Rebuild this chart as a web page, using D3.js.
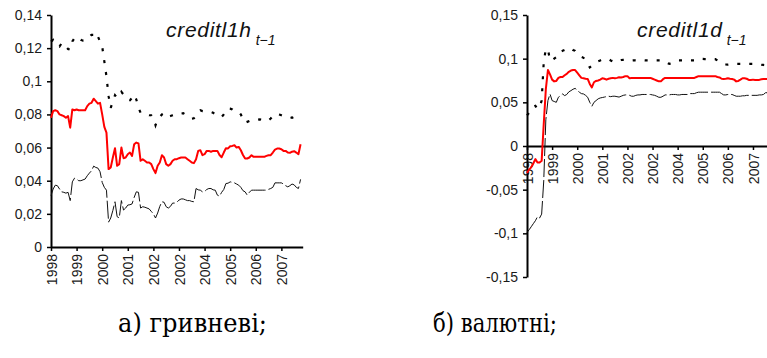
<!DOCTYPE html>
<html>
<head>
<meta charset="utf-8">
<script src="https://cdn.jsdelivr.net/npm/d3@7"></script>
<style>
  body { margin: 0; background: #fff; }
  svg { display: block; }
  .tick text { font-family: "Liberation Sans", Arial, sans-serif; font-size: 14px; fill: #1a1a1a; }
  .title { font-family: "Liberation Sans", Arial, sans-serif; font-style: italic; fill: #111; }
</style>
</head>
<body>
<div id="chart"></div>
<script>
// x tick labels (one every 12 months, as printed in the source)
const yearLabels = ["1998", "1999", "2000", "2001", "2002", "2002", "2004", "2005", "2006", "2007"];

// left panel: creditl1h (hryvnia), monthly 1998-01 .. 2007-10
const leftYTicks = [0, 0.02, 0.04, 0.06, 0.08, 0.1, 0.12, 0.14];
const leftYLabels = ["0", "0,02", "0,04", "0,06", "0,08", "0,1", "0,12", "0,14"];

const leftMid = [
  0.078, 0.082, 0.0825, 0.082, 0.080, 0.0795, 0.079, 0.078, 0.079, 0.072,
  0.083, 0.0825, 0.083, 0.0825, 0.0825, 0.0825, 0.0825, 0.085, 0.0865, 0.087,
  0.0895, 0.088, 0.0865, 0.087, 0.080, 0.0725, 0.069, 0.047, 0.048, 0.054,
  0.0596, 0.049, 0.050, 0.060, 0.0536, 0.054, 0.056, 0.057, 0.055, 0.062,
  0.063, 0.0625, 0.052, 0.053, 0.052, 0.051, 0.051, 0.050, 0.047, 0.0446,
  0.049, 0.051, 0.0554, 0.054, 0.050, 0.049, 0.050, 0.052, 0.053, 0.053,
  0.0536, 0.054, 0.054, 0.054, 0.053, 0.052, 0.051, 0.0506, 0.053, 0.058,
  0.0584, 0.0554, 0.056, 0.058, 0.058, 0.0575, 0.058, 0.058, 0.058, 0.0555,
  0.0542, 0.057, 0.0596, 0.0595, 0.0608, 0.061, 0.0614, 0.060, 0.0604, 0.0584,
  0.0555, 0.0534, 0.0534, 0.054, 0.0554, 0.0544, 0.0544, 0.0544, 0.0544, 0.0544,
  0.0544, 0.055, 0.0554, 0.0554, 0.057, 0.0588, 0.0594, 0.0594, 0.059, 0.058,
  0.058, 0.057, 0.0568, 0.0575, 0.0578, 0.057, 0.056, 0.062
];

const leftUpper = [
  0.124, 0.125, 0.123, 0.122, 0.121, 0.123, 0.123, 0.121, 0.1195, 0.119,
  0.124, 0.126, 0.127, 0.126, 0.125, 0.1245, 0.1245, 0.126, 0.127, 0.128,
  0.128, 0.1295, 0.127, 0.124, 0.121, 0.112, 0.103, 0.091, 0.084, 0.088,
  0.0916, 0.090, 0.091, 0.0936, 0.092, 0.091, 0.089, 0.0886, 0.090, 0.092,
  0.089, 0.084, 0.081, 0.0805, 0.080, 0.080, 0.0795, 0.0795, 0.078, 0.0735,
  0.077, 0.0785, 0.080, 0.0807, 0.080, 0.0785, 0.079, 0.0795, 0.080, 0.080,
  0.080, 0.0805, 0.0807, 0.080, 0.079, 0.078, 0.0775, 0.0777, 0.079, 0.0815,
  0.0825, 0.082, 0.0818, 0.0815, 0.0815, 0.0815, 0.081, 0.080, 0.079, 0.0785,
  0.0785, 0.080, 0.0825, 0.0837, 0.0835, 0.083, 0.082, 0.0815, 0.0815, 0.080,
  0.077, 0.075, 0.0755, 0.076, 0.0765, 0.0765, 0.0765, 0.0768, 0.077, 0.0765,
  0.0762, 0.0759, 0.0765, 0.0775, 0.079, 0.080, 0.0805, 0.080, 0.0795, 0.079,
  0.0785, 0.0785, 0.0785, 0.078, 0.0785, 0.079, 0.0795, 0.080
];

const leftLower = [
  0.031, 0.035, 0.0373, 0.037, 0.035, 0.0333, 0.033, 0.0325, 0.033, 0.028,
  0.0393, 0.0415, 0.041, 0.040, 0.040, 0.0405, 0.041, 0.043, 0.0446, 0.046,
  0.0488, 0.048, 0.0476, 0.0454, 0.039, 0.036, 0.0343, 0.015, 0.0175, 0.022,
  0.0273, 0.0183, 0.0175, 0.028, 0.0223, 0.0235, 0.0253, 0.0255, 0.026, 0.030,
  0.0333, 0.033, 0.0235, 0.0243, 0.024, 0.0235, 0.023, 0.0215, 0.020, 0.0175,
  0.0205, 0.0245, 0.0273, 0.027, 0.0243, 0.0235, 0.0245, 0.0265, 0.0265, 0.027,
  0.0283, 0.029, 0.029, 0.0285, 0.028, 0.028, 0.0275, 0.0273, 0.0353, 0.0345,
  0.0343, 0.0333, 0.0335, 0.0347, 0.0353, 0.0353, 0.0345, 0.0343, 0.0313, 0.0307,
  0.033, 0.0347, 0.0383, 0.0385, 0.0393, 0.039, 0.0387, 0.038, 0.0373, 0.036,
  0.034, 0.0333, 0.0313, 0.033, 0.0343, 0.0343, 0.0343, 0.0343, 0.0343, 0.0343,
  0.0343, 0.0343, 0.0348, 0.0353, 0.036, 0.0387, 0.0387, 0.0387, 0.0387, 0.038,
  0.037, 0.0363, 0.037, 0.038, 0.0375, 0.036, 0.0353, 0.0408
];

// right panel: creditl1d (foreign currency)
const rightYTicks = [-0.15, -0.1, -0.05, 0, 0.05, 0.1, 0.15];
const rightYLabels = ["-0,15", "-0,1", "-0,05", "0", "0,05", "0,1", "0,15"];

const rightMid = [
  -0.031, -0.027, -0.0245, -0.02, -0.015, -0.019, -0.019, -0.017, 0.025, 0.065,
  0.087, 0.082, 0.076, 0.074, 0.0745, 0.078, 0.079, 0.079, 0.081, 0.0826,
  0.085, 0.0864, 0.087, 0.087, 0.084, 0.081, 0.078, 0.0776, 0.077, 0.0768,
  0.071, 0.067, 0.073, 0.0745, 0.075, 0.076, 0.0776, 0.077, 0.076, 0.077,
  0.0775, 0.078, 0.0775, 0.078, 0.0788, 0.0785, 0.079, 0.080, 0.080, 0.0776,
  0.0778, 0.078, 0.078, 0.078, 0.078, 0.078, 0.078, 0.078, 0.078, 0.078,
  0.077, 0.076, 0.075, 0.074, 0.074, 0.0765, 0.078, 0.078, 0.078, 0.078,
  0.078, 0.078, 0.078, 0.078, 0.078, 0.078, 0.078, 0.078, 0.078, 0.078,
  0.078, 0.079, 0.080, 0.080, 0.080, 0.080, 0.080, 0.080, 0.080, 0.080,
  0.080, 0.079, 0.0785, 0.077, 0.0768, 0.077, 0.0775, 0.077, 0.0768, 0.076,
  0.074, 0.0745, 0.076, 0.0776, 0.0776, 0.077, 0.0757, 0.0757, 0.076, 0.0757,
  0.0757, 0.0757, 0.0765, 0.0768, 0.0768, 0.0768, 0.0768, 0.0768
];

const rightUpper = [
  0.035, 0.038, 0.0424, 0.045, 0.046, 0.0424, 0.044, 0.052, 0.096, 0.111,
  0.111, 0.098, 0.098, 0.100, 0.1017, 0.1067, 0.108, 0.109, 0.110, 0.111,
  0.112, 0.112, 0.110, 0.109, 0.106, 0.104, 0.102, 0.101, 0.098, 0.094,
  0.090, 0.092, 0.094, 0.095, 0.097, 0.098, 0.099, 0.0995, 0.0998, 0.0995,
  0.098, 0.097, 0.096, 0.097, 0.098, 0.0985, 0.0986, 0.0986, 0.098, 0.098,
  0.098, 0.0982, 0.098, 0.0978, 0.098, 0.098, 0.0982, 0.098, 0.098, 0.098,
  0.098, 0.098, 0.098, 0.098, 0.098, 0.098, 0.097, 0.095, 0.094, 0.095,
  0.096, 0.097, 0.098, 0.098, 0.098, 0.098, 0.098, 0.098, 0.098, 0.098,
  0.098, 0.099, 0.0995, 0.0998, 0.0998, 0.0995, 0.0995, 0.0995, 0.0995, 0.0995,
  0.0994, 0.098, 0.096, 0.095, 0.094, 0.0935, 0.0932, 0.0935, 0.094, 0.094,
  0.094, 0.094, 0.094, 0.094, 0.094, 0.094, 0.094, 0.094, 0.094, 0.094,
  0.094, 0.0935, 0.093, 0.0928, 0.0925, 0.0925, 0.0925, 0.0925
];

const rightLower = [
  -0.099, -0.096, -0.0925, -0.089, -0.0856, -0.081, -0.0825, -0.078, -0.04, 0.030,
  0.052, 0.0596, 0.052, 0.051, 0.050, 0.0558, 0.0575, 0.0596, 0.0577, 0.059,
  0.062, 0.0634, 0.065, 0.066, 0.064, 0.0616, 0.060, 0.0596, 0.058, 0.0558,
  0.050, 0.0455, 0.050, 0.052, 0.054, 0.055, 0.0555, 0.056, 0.0566, 0.057,
  0.0565, 0.057, 0.057, 0.0565, 0.056, 0.057, 0.058, 0.0585, 0.0585, 0.058,
  0.057, 0.057, 0.058, 0.0585, 0.0585, 0.059, 0.059, 0.059, 0.059, 0.059,
  0.0585, 0.058, 0.057, 0.0558, 0.0558, 0.057, 0.0585, 0.0585, 0.0585, 0.059,
  0.059, 0.059, 0.0585, 0.0585, 0.059, 0.059, 0.059, 0.059, 0.060, 0.060,
  0.060, 0.061, 0.0616, 0.0616, 0.0616, 0.0616, 0.0616, 0.0616, 0.0616, 0.0616,
  0.0616, 0.0616, 0.0616, 0.060, 0.0585, 0.0585, 0.059, 0.059, 0.059, 0.058,
  0.057, 0.057, 0.057, 0.0575, 0.0575, 0.058, 0.058, 0.058, 0.058, 0.058,
  0.058, 0.0585, 0.0585, 0.059, 0.061, 0.061, 0.061, 0.061
];

const captions = ["а) гривневі;", "б) валютні;"];

const svg = d3.select("#chart").append("svg")
  .attr("width", 767)
  .attr("height", 358);

function drawPanel(opt) {
  const g = svg.append("g");

  const x = d3.scaleLinear().domain([0, 118]).range(opt.xRange);
  const y = d3.scaleLinear().domain(opt.yDomain).range(opt.yRange);

  // x axis sits on y = 0
  const xAxis = g.append("g")
    .attr("transform", `translate(0,${y(0)})`)
    .call(d3.axisBottom(x)
      .tickValues(d3.range(0, 109, 12))
      .tickFormat((d, i) => yearLabels[i])
      .tickSize(4)
      .tickSizeOuter(0));
  xAxis.selectAll("text")
    .attr("transform", "rotate(-90)")
    .attr("x", -7)
    .attr("y", 0)
    .attr("dy", "0.36em")
    .style("text-anchor", "end");

  g.append("g")
    .attr("transform", `translate(${opt.xRange[0]},0)`)
    .call(d3.axisLeft(y)
      .tickValues(opt.yTicks)
      .tickFormat((d, i) => opt.yLabels[i])
      .tickSize(4)
      .tickSizeOuter(0)
      .tickPadding(5));

  g.selectAll(".domain").attr("stroke", "#000").attr("stroke-width", 2);
  g.selectAll(".tick line").attr("stroke", "#000").attr("stroke-width", 1.5);

  const line = d3.line().x((d, i) => x(i)).y(d => y(d));

  // upper band: heavy dotted
  g.append("path").datum(opt.upper)
    .attr("d", line).attr("fill", "none")
    .attr("stroke", "#000").attr("stroke-width", 2.2)
    .attr("stroke-dasharray", "3,9");
  // lower band: thin long dashes
  g.append("path").datum(opt.lower)
    .attr("d", line).attr("fill", "none")
    .attr("stroke", "#111").attr("stroke-width", 1)
    .attr("stroke-dasharray", "18,3");
  // estimate
  g.append("path").datum(opt.mid)
    .attr("d", line).attr("fill", "none")
    .attr("stroke", "#ff0000").attr("stroke-width", 2)
    .attr("stroke-linejoin", "round");

  // title with subscript
  const t = g.append("text")
    .attr("class", "title")
    .attr("x", opt.titleX).attr("y", 37)
    .style("font-size", "21px");
  t.append("tspan").text(opt.title)
    .attr("textLength", 85).attr("lengthAdjust", "spacing");
  t.append("tspan").text("t−1")
    .attr("dx", 4).attr("dy", 8)
    .style("font-size", "14px");

  // caption, squeezed to the width of the original Times lettering
  svg.append("text")
    .attr("x", opt.captionX).attr("y", 332)
    .attr("font-family", "'DejaVu Serif', serif")
    .attr("font-size", 26)
    .attr("fill", "#000")
    .attr("textLength", opt.captionW)
    .attr("lengthAdjust", "spacingAndGlyphs")
    .text(opt.caption);
}

drawPanel({
  xRange: [51, 302.7], yDomain: [0, 0.14], yRange: [247, 15],
  yTicks: leftYTicks, yLabels: leftYLabels,
  upper: leftUpper, mid: leftMid, lower: leftLower,
  title: "creditl1h", titleX: 166,
  caption: captions[0], captionX: 118, captionW: 149
});

drawPanel({
  xRange: [527, 773.9], yDomain: [-0.15, 0.15], yRange: [277, 15],
  yTicks: rightYTicks, yLabels: rightYLabels,
  upper: rightUpper, mid: rightMid, lower: rightLower,
  title: "creditl1d", titleX: 637,
  caption: captions[1], captionX: 433, captionW: 124
});
</script>
</body>
</html>
